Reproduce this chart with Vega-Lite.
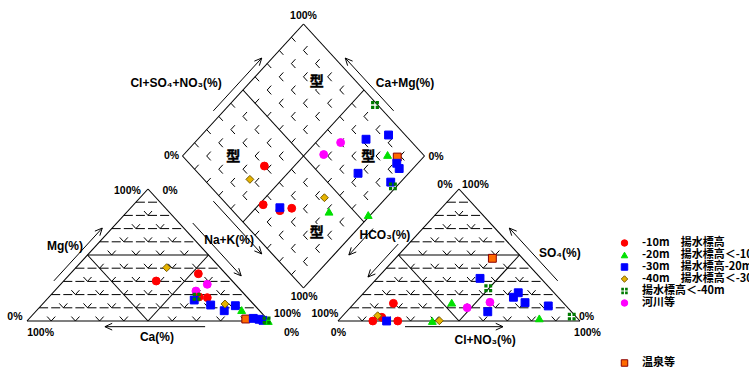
{
"$schema": "https://vega.github.io/schema/vega-lite/v6.json",
"width": 749, "height": 372, "padding": 0, "autosize": {"type": "none"},
"background": "white",
"config": {"view": {"stroke": null}},
"datasets": {
"solid": [
{"x":0,"y":0,"x2":100,"y2":0},{"x":0,"y":0,"x2":50,"y2":100},{"x":100,"y":0,"x2":50,"y2":100},
{"x":25,"y":50,"x2":75,"y2":50},{"x":50,"y":0,"x2":25,"y2":50},{"x":50,"y":0,"x2":75,"y2":50},
{"x":128.5,"y":0,"x2":228.5,"y2":0},{"x":128.5,"y":0,"x2":178.5,"y2":100},{"x":228.5,"y":0,"x2":178.5,"y2":100},
{"x":153.5,"y":50,"x2":203.5,"y2":50},{"x":178.5,"y":0,"x2":153.5,"y2":50},{"x":178.5,"y":0,"x2":203.5,"y2":50},
{"x":114.25,"y":225,"x2":164.25,"y2":125},{"x":164.25,"y":125,"x2":114.25,"y2":25},{"x":114.25,"y":25,"x2":64.25,"y2":125},{"x":64.25,"y":125,"x2":114.25,"y2":225},
{"x":89.25,"y":75,"x2":139.25,"y2":175},{"x":89.25,"y":175,"x2":139.25,"y2":75}
],
"hdash": [
{"x":5,"y":10,"x2":95,"y2":10},{"x":10,"y":20,"x2":90,"y2":20},{"x":15,"y":30,"x2":85,"y2":30},{"x":20,"y":40,"x2":80,"y2":40},
{"x":30,"y":60,"x2":70,"y2":60},{"x":35,"y":70,"x2":65,"y2":70},{"x":40,"y":80,"x2":60,"y2":80},{"x":45,"y":90,"x2":55,"y2":90},
{"x":133.5,"y":10,"x2":223.5,"y2":10},{"x":138.5,"y":20,"x2":218.5,"y2":20},{"x":143.5,"y":30,"x2":213.5,"y2":30},{"x":148.5,"y":40,"x2":208.5,"y2":40},
{"x":158.5,"y":60,"x2":198.5,"y2":60},{"x":163.5,"y":70,"x2":193.5,"y2":70},{"x":168.5,"y":80,"x2":188.5,"y2":80},{"x":173.5,"y":90,"x2":183.5,"y2":90}
],
"sdash": [
{"x":10,"y":0,"x2":5,"y2":10},{"x":20,"y":0,"x2":10,"y2":20},{"x":30,"y":0,"x2":15,"y2":30},{"x":40,"y":0,"x2":20,"y2":40},
{"x":60,"y":0,"x2":30,"y2":60},{"x":70,"y":0,"x2":35,"y2":70},{"x":80,"y":0,"x2":40,"y2":80},{"x":90,"y":0,"x2":45,"y2":90},
{"x":10,"y":0,"x2":55,"y2":90},{"x":20,"y":0,"x2":60,"y2":80},{"x":30,"y":0,"x2":65,"y2":70},{"x":40,"y":0,"x2":70,"y2":60},
{"x":60,"y":0,"x2":80,"y2":40},{"x":70,"y":0,"x2":85,"y2":30},{"x":80,"y":0,"x2":90,"y2":20},{"x":90,"y":0,"x2":95,"y2":10},
{"x":138.5,"y":0,"x2":133.5,"y2":10},{"x":148.5,"y":0,"x2":138.5,"y2":20},{"x":158.5,"y":0,"x2":143.5,"y2":30},{"x":168.5,"y":0,"x2":148.5,"y2":40},
{"x":188.5,"y":0,"x2":158.5,"y2":60},{"x":198.5,"y":0,"x2":163.5,"y2":70},{"x":208.5,"y":0,"x2":168.5,"y2":80},{"x":218.5,"y":0,"x2":173.5,"y2":90},
{"x":138.5,"y":0,"x2":183.5,"y2":90},{"x":148.5,"y":0,"x2":188.5,"y2":80},{"x":158.5,"y":0,"x2":193.5,"y2":70},{"x":168.5,"y":0,"x2":198.5,"y2":60},
{"x":188.5,"y":0,"x2":208.5,"y2":40},{"x":198.5,"y":0,"x2":213.5,"y2":30},{"x":208.5,"y":0,"x2":218.5,"y2":20},{"x":218.5,"y":0,"x2":223.5,"y2":10},
{"x":69.25,"y":115,"x2":119.25,"y2":215},{"x":74.25,"y":105,"x2":124.25,"y2":205},{"x":79.25,"y":95,"x2":129.25,"y2":195},{"x":84.25,"y":85,"x2":134.25,"y2":185},
{"x":94.25,"y":65,"x2":144.25,"y2":165},{"x":99.25,"y":55,"x2":149.25,"y2":155},{"x":104.25,"y":45,"x2":154.25,"y2":145},{"x":109.25,"y":35,"x2":159.25,"y2":135},
{"x":69.25,"y":135,"x2":119.25,"y2":35},{"x":74.25,"y":145,"x2":124.25,"y2":45},{"x":79.25,"y":155,"x2":129.25,"y2":55},{"x":84.25,"y":165,"x2":134.25,"y2":65},
{"x":94.25,"y":185,"x2":144.25,"y2":85},{"x":99.25,"y":195,"x2":149.25,"y2":95},{"x":104.25,"y":205,"x2":154.25,"y2":105},{"x":109.25,"y":215,"x2":159.25,"y2":115}
],
"arrows": [
{"x":77,"y":159.2,"x2":97,"y2":199.2},{"x":97,"y":199.2,"x2":93.95,"y2":196.88},{"x":97,"y":199.2,"x2":96.0,"y2":193.42},
{"x":151.5,"y":159.2,"x2":131.5,"y2":199.2},{"x":131.5,"y":199.2,"x2":134.55,"y2":196.88},{"x":131.5,"y":199.2,"x2":132.5,"y2":193.42},
{"x":11.1,"y":30.4,"x2":31.1,"y2":70.4},{"x":31.1,"y":70.4,"x2":28.05,"y2":68.08},{"x":31.1,"y":70.4,"x2":30.1,"y2":64.62},
{"x":68.5,"y":74.2,"x2":88.5,"y2":34.2},{"x":88.5,"y":34.2,"x2":85.45,"y2":36.52},{"x":88.5,"y":34.2,"x2":87.5,"y2":39.98},
{"x":77,"y":90.8,"x2":97,"y2":50.8},{"x":97,"y":50.8,"x2":93.95,"y2":53.12},{"x":97,"y":50.8,"x2":96.0,"y2":56.58},
{"x":73.6,"y":-4.3,"x2":32.2,"y2":-4.3},{"x":32.2,"y":-4.3,"x2":35.2,"y2":-6.86},{"x":32.2,"y":-4.3,"x2":35.2,"y2":-1.74},
{"x":156.2,"y":-4.3,"x2":196.7,"y2":-4.3},{"x":196.7,"y":-4.3,"x2":193.7,"y2":-6.86},{"x":196.7,"y":-4.3,"x2":193.7,"y2":-1.74},
{"x":219.3,"y":30.4,"x2":199.3,"y2":70.4},{"x":199.3,"y":70.4,"x2":202.35,"y2":68.08},{"x":199.3,"y":70.4,"x2":200.3,"y2":64.62},
{"x":153.4,"y":58.3,"x2":140.9,"y2":33.3},{"x":140.9,"y":33.3,"x2":143.95,"y2":35.62},{"x":140.9,"y":33.3,"x2":141.9,"y2":39.08},
{"x":143,"y":70,"x2":133,"y2":50},{"x":133,"y":50,"x2":136.05,"y2":52.32},{"x":133,"y":50,"x2":134,"y2":55.78}
],
"pct": [
{"t":"100%","x":114.25,"y":231.1},{"t":"0%","x":59.7,"y":125},{"t":"0%","x":169.0,"y":124.2},{"t":"100%","x":114.5,"y":18.2},
{"t":"100%","x":41.5,"y":98.5},{"t":"0%","x":59.1,"y":98.5},{"t":"0%","x":-5.0,"y":3.0},{"t":"100%","x":5.6,"y":-9.1},
{"t":"100%","x":107.6,"y":5.3},{"t":"0%","x":109.3,"y":-9.1},
{"t":"0%","x":172.7,"y":103.0},{"t":"100%","x":185.3,"y":103.0},{"t":"100%","x":123.1,"y":5.3},{"t":"0%","x":128.7,"y":-9.1},
{"t":"0%","x":231.2,"y":3.0},{"t":"100%","x":231.6,"y":-9.1}
],
"titles": [
{"t":"Cl+SO₄+NO₃(%)","x":61.6,"y":180.3},{"t":"Ca+Mg(%)","x":156.2,"y":180.3},
{"t":"Mg(%)","x":15.7,"y":56.8},{"t":"Na+K(%)","x":83.5,"y":61.4},{"t":"Ca(%)","x":53.7,"y":-12.1},
{"t":"HCO₃(%)","x":147.9,"y":65.2},{"t":"SO₄(%)","x":220.2,"y":51.5},{"t":"Cl+NO₃(%)","x":189.3,"y":-14.4}
],
"types": [
{"t":"型","x":119.7,"y":181.3},{"t":"型","x":85.2,"y":124.5},{"t":"型","x":141.0,"y":124.5},{"t":"型","x":119.7,"y":66.4}
],
"points": [
{"g":"-40m　揚水標高＜-30m","x":57.7,"y":40.4},
{"g":"-10m　揚水標高","x":70.8,"y":35.8},
{"g":"河川等","x":74.5,"y":27.8},
{"g":"-10m　揚水標高","x":53.4,"y":30.3},
{"g":"河川等","x":69.8,"y":22.7},
{"g":"-10m　揚水標高","x":71.1,"y":18.2},
{"g":"-30m　揚水標高-20m","x":69.1,"y":15.9},
{"g":"揚水標高＜-40m","x":70.1,"y":18.4},
{"g":"-10m　揚水標高","x":74.5,"y":17.7},
{"g":"-30m　揚水標高-20m","x":75.9,"y":12.1},
{"g":"-30m　揚水標高-20m","x":81.5,"y":7.8},
{"g":"-40m　揚水標高＜-30m","x":81.8,"y":12.9},
{"g":"-30m　揚水標高-20m","x":86.1,"y":11.6},
{"g":"-20m　揚水標高＜-10m","x":88.7,"y":8.3},
{"g":"温泉等","x":90.4,"y":1.5},
{"g":"-30m　揚水標高-20m","x":93.5,"y":2.0},
{"g":"-30m　揚水標高-20m","x":95.9,"y":1.3},
{"g":"-30m　揚水標高-20m","x":97.5,"y":0.5},
{"g":"-20m　揚水標高＜-10m","x":99.7,"y":0.0},
{"g":"揚水標高＜-40m","x":99.0,"y":0.5},
{"g":"揚水標高＜-40m","x":143.8,"y":163.6},
{"g":"-30m　揚水標高-20m","x":149.4,"y":140.9},
{"g":"-30m　揚水標高-20m","x":140.1,"y":137.7},
{"g":"河川等","x":129.6,"y":135.2},
{"g":"河川等","x":122.6,"y":126.1},
{"g":"-20m　揚水標高＜-10m","x":149.0,"y":125.8},
{"g":"温泉等","x":153.0,"y":124.2},
{"g":"-30m　揚水標高-20m","x":152.8,"y":119.5},
{"g":"-30m　揚水標高-20m","x":153.8,"y":115.5},
{"g":"-30m　揚水標高-20m","x":136.8,"y":111.9},
{"g":"-10m　揚水標高","x":98.1,"y":117.4},
{"g":"-40m　揚水標高＜-30m","x":92.1,"y":107.3},
{"g":"-30m　揚水標高-20m","x":150.3,"y":105.2},
{"g":"揚水標高＜-40m","x":151.2,"y":102.0},
{"g":"-40m　揚水標高＜-30m","x":122.9,"y":93.4},
{"g":"-20m　揚水標高＜-10m","x":124.8,"y":82.8},
{"g":"-20m　揚水標高＜-10m","x":141.0,"y":80.3},
{"g":"-10m　揚水標高","x":97.6,"y":88.1},
{"g":"-10m　揚水標高","x":104.5,"y":83.6},
{"g":"-30m　揚水標高-20m","x":104.5,"y":85.8},
{"g":"-10m　揚水標高","x":109.4,"y":85.4},
{"g":"温泉等","x":192.3,"y":47.5},
{"g":"-30m　揚水標高-20m","x":187.2,"y":32.3},
{"g":"揚水標高＜-40m","x":190.6,"y":24.8},
{"g":"-30m　揚水標高-20m","x":203.0,"y":21.4},
{"g":"-30m　揚水標高-20m","x":201.0,"y":18.0},
{"g":"-30m　揚水標高-20m","x":205.8,"y":13.9},
{"g":"-30m　揚水標高-20m","x":215.4,"y":11.4},
{"g":"河川等","x":191.3,"y":14.2},
{"g":"河川等","x":181.9,"y":10.1},
{"g":"-30m　揚水標高-20m","x":190.4,"y":7.0},
{"g":"-20m　揚水標高＜-10m","x":175.5,"y":13.9},
{"g":"-20m　揚水標高＜-10m","x":211.7,"y":2.0},
{"g":"揚水標高＜-40m","x":225.1,"y":3.3},
{"g":"-10m　揚水標高","x":151.4,"y":13.4},
{"g":"-10m　揚水標高","x":146.6,"y":2.8},
{"g":"-40m　揚水標高＜-30m","x":144.9,"y":4.0},
{"g":"-10m　揚水標高","x":142.9,"y":0},
{"g":"-30m　揚水標高-20m","x":148.6,"y":0},
{"g":"-10m　揚水標高","x":153.2,"y":0},
{"g":"-20m　揚水標高＜-10m","x":167.5,"y":0},
{"g":"-40m　揚水標高＜-30m","x":170.4,"y":0.2}
]
},
"layer": [
{"data":{"name":"hdash"},"mark":{"type":"rule","color":"#000","strokeWidth":1,"strokeDash":[9,3.1]},
 "encoding":{"x":{"field":"x","type":"quantitative","scale":{"domain":[-11.157,298.347],"nice":false,"zero":false},"axis":null},
  "y":{"field":"y","type":"quantitative","scale":{"domain":[-38.636,243.182],"nice":false,"zero":false},"axis":null},
  "x2":{"field":"x2"},"y2":{"field":"y2"}}},
{"data":{"name":"sdash"},"mark":{"type":"rule","color":"#000","strokeWidth":1,"strokeDash":[6,11.9]},
 "encoding":{"x":{"field":"x","type":"quantitative","scale":{"domain":[-11.157,298.347],"nice":false,"zero":false},"axis":null},
  "y":{"field":"y","type":"quantitative","scale":{"domain":[-38.636,243.182],"nice":false,"zero":false},"axis":null},
  "x2":{"field":"x2"},"y2":{"field":"y2"}}},
{"data":{"name":"solid"},"mark":{"type":"rule","color":"#000","strokeWidth":1.1},
 "encoding":{"x":{"field":"x","type":"quantitative","scale":{"domain":[-11.157,298.347],"nice":false,"zero":false},"axis":null},
  "y":{"field":"y","type":"quantitative","scale":{"domain":[-38.636,243.182],"nice":false,"zero":false},"axis":null},
  "x2":{"field":"x2"},"y2":{"field":"y2"}}},
{"data":{"name":"arrows"},"mark":{"type":"rule","color":"#000","strokeWidth":1},
 "encoding":{"x":{"field":"x","type":"quantitative","scale":{"domain":[-11.157,298.347],"nice":false,"zero":false},"axis":null},
  "y":{"field":"y","type":"quantitative","scale":{"domain":[-38.636,243.182],"nice":false,"zero":false},"axis":null},
  "x2":{"field":"x2"},"y2":{"field":"y2"}}},
{"data":{"name":"pct"},"mark":{"type":"text","font":"Liberation Sans","fontSize":10.5,"fontWeight":"bold","align":"center","baseline":"middle","color":"#000"},
 "encoding":{"x":{"field":"x","type":"quantitative","scale":{"domain":[-11.157,298.347],"nice":false,"zero":false},"axis":null},
  "y":{"field":"y","type":"quantitative","scale":{"domain":[-38.636,243.182],"nice":false,"zero":false},"axis":null},
  "text":{"field":"t"}}},
{"data":{"name":"titles"},"mark":{"type":"text","font":"Liberation Sans","fontSize":12,"fontWeight":"bold","align":"center","baseline":"middle","color":"#000"},
 "encoding":{"x":{"field":"x","type":"quantitative","scale":{"domain":[-11.157,298.347],"nice":false,"zero":false},"axis":null},
  "y":{"field":"y","type":"quantitative","scale":{"domain":[-38.636,243.182],"nice":false,"zero":false},"axis":null},
  "text":{"field":"t"}}},
{"data":{"name":"types"},"mark":{"type":"text","font":"Noto Sans CJK JP","fontSize":14,"fontWeight":"bold","align":"center","baseline":"middle","color":"#fff","stroke":"#fff","strokeWidth":3},
 "encoding":{"x":{"field":"x","type":"quantitative","scale":{"domain":[-11.157,298.347],"nice":false,"zero":false},"axis":null},
  "y":{"field":"y","type":"quantitative","scale":{"domain":[-38.636,243.182],"nice":false,"zero":false},"axis":null},
  "text":{"field":"t"}}},
{"data":{"name":"types"},"mark":{"type":"text","font":"Noto Sans CJK JP","fontSize":14,"fontWeight":"bold","align":"center","baseline":"middle","color":"#000","stroke":"#000","strokeWidth":0.4},
 "encoding":{"x":{"field":"x","type":"quantitative","scale":{"domain":[-11.157,298.347],"nice":false,"zero":false},"axis":null},
  "y":{"field":"y","type":"quantitative","scale":{"domain":[-38.636,243.182],"nice":false,"zero":false},"axis":null},
  "text":{"field":"t"}}},
{"data":{"name":"points"},"mark":{"type":"point","filled":true,"size":62,"strokeWidth":1,"opacity":1},
 "encoding":{"x":{"field":"x","type":"quantitative","scale":{"domain":[-11.157,298.347],"nice":false,"zero":false},"axis":null},
  "y":{"field":"y","type":"quantitative","scale":{"domain":[-38.636,243.182],"nice":false,"zero":false},"axis":null},
  "color":{"field":"g","type":"nominal",
   "scale":{"domain":["-10m　揚水標高","-20m　揚水標高＜-10m","-30m　揚水標高-20m","-40m　揚水標高＜-30m","揚水標高＜-40m","河川等"," ","  ","   ","    ","温泉等"],
            "range":["#ff0000","#00e000","#0000ff","#e6b400","#007a00","#ff00ff","transparent","transparent","transparent","transparent","#ff6a00"]},
   "legend":{"orient":"none","legendX":619,"legendY":237.5,"title":null,"padding":0,"symbolSize":42,"symbolStrokeWidth":1,"labelFont":"Noto Sans CJK JP","labelFontSize":11,"labelFontWeight":"bold","labelColor":"#000","labelOffset":12,"rowPadding":0,"labelLimit":400}},
  "stroke":{"field":"g","type":"nominal",
   "scale":{"domain":["-10m　揚水標高","-20m　揚水標高＜-10m","-30m　揚水標高-20m","-40m　揚水標高＜-30m","揚水標高＜-40m","河川等"," ","  ","   ","    ","温泉等"],
            "range":["#ff0000","#00e000","#0000ff","#7a5c00","transparent","#ff00ff","transparent","transparent","transparent","transparent","#8b0000"]},
   "legend":{"orient":"none","legendX":619,"legendY":237.5,"title":null,"padding":0,"symbolSize":42,"symbolStrokeWidth":1,"labelFont":"Noto Sans CJK JP","labelFontSize":11,"labelFontWeight":"bold","labelColor":"#000","labelOffset":12,"rowPadding":0,"labelLimit":400}},
  "shape":{"field":"g","type":"nominal",
   "scale":{"domain":["-10m　揚水標高","-20m　揚水標高＜-10m","-30m　揚水標高-20m","-40m　揚水標高＜-30m","揚水標高＜-40m","河川等"," ","  ","   ","    ","温泉等"],
            "range":["circle","triangle-up","square","diamond","M-1,-1H-0.18V-0.18H-1Z M0.18,-1H1V-0.18H0.18Z M-1,0.18H-0.18V1H-1Z M0.18,0.18H1V1H0.18Z","circle","circle","circle","circle","circle","square"]},
   "legend":{"orient":"none","legendX":619,"legendY":237.5,"title":null,"padding":0,"symbolSize":42,"symbolStrokeWidth":1,"labelFont":"Noto Sans CJK JP","labelFontSize":11,"labelFontWeight":"bold","labelColor":"#000","labelOffset":12,"rowPadding":0,"labelLimit":400}}
 }}
]
}
